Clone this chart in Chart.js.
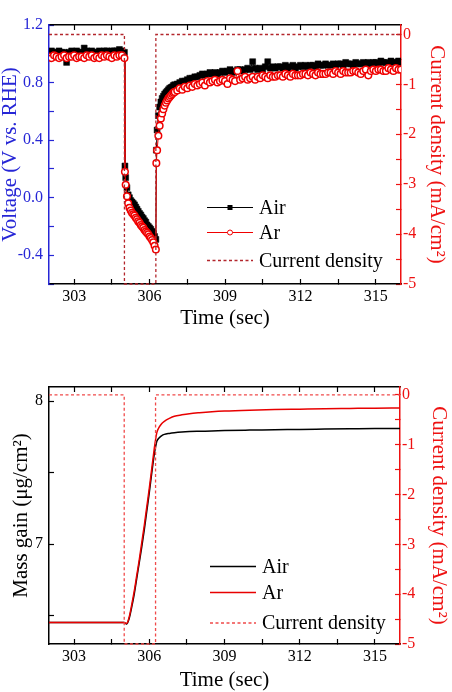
<!DOCTYPE html>
<html>
<head>
<meta charset="utf-8">
<script src="https://cdn.jsdelivr.net/npm/chart.js@4.4.1/dist/chart.umd.min.js"></script>
<style>
  body { margin: 0; background: #fff; }
  #wrap { position: relative; width: 452px; height: 692px; }
  canvas { position: absolute; left: 0; }
</style>
</head>
<body>
<div id="wrap">
  <canvas id="voltChart" width="452" height="340" style="top:0"></canvas>
  <canvas id="massChart" width="452" height="352" style="top:340px"></canvas>
</div>
<script>
/* ---------- data (top panel: voltage) ---------- */
let timeV = [
  302.0,302.1,302.2,302.3,302.4,302.5,302.6,302.7,302.8,302.9,
  303.0,303.1,303.2,303.3,303.4,303.5,303.6,303.7,303.8,303.9,
  304.0,304.1,304.2,304.3,304.4,304.5,304.6,304.7,304.8,304.9,
  305.0,
  305.02,305.05,305.1,305.15,305.2,305.25,305.3,305.35,305.4,305.45,
  305.5,305.55,305.6,305.65,305.7,305.75,305.8,305.85,305.9,305.95,
  306.0,306.05,306.1,306.15,306.2,306.25,
  306.27,306.3,306.35,306.4,306.45,306.5,306.55,306.6,306.65,306.7,
  306.75,306.8,306.85,306.9,306.95,307.0,
  307.1,307.2,307.3,307.4,307.5,307.6,307.7,307.8,307.9,
  308.0,308.1,308.2,308.3,308.4,308.5,308.6,308.7,308.8,308.9,
  309.0,309.1,309.2,309.3,309.4,309.5,309.6,309.7,309.8,309.9,
  310.0,310.1,310.2,310.3,310.4,310.5,310.6,310.7,310.8,310.9,
  311.0,311.1,311.2,311.3,311.4,311.5,311.6,311.7,311.8,311.9,
  312.0,312.1,312.2,312.3,312.4,312.5,312.6,312.7,312.8,312.9,
  313.0,313.1,313.2,313.3,313.4,313.5,313.6,313.7,313.8,313.9,
  314.0,314.1,314.2,314.3,314.4,314.5,314.6,314.7,314.8,314.9,
  315.0,315.1,315.2,315.3,315.4,315.5,315.6,315.7,315.8,315.9,
  316.0
]
let airVolt = [
  1.01,1.02,1.01,1.01,1.02,1.01,1.01,0.94,1.01,1.02,
  1.01,1.02,1.01,1.01,1.04,1.02,1.01,1.02,1.01,1.01,
  1.02,1.01,1.02,1.02,1.01,1.02,1.02,1.02,1.03,1.02,
  1.01,
  0.22,0.14,0.07,0.02,0.0,-0.02,-0.03,-0.04,-0.05,-0.065,
  -0.08,-0.095,-0.11,-0.12,-0.135,-0.145,-0.16,-0.17,-0.19,-0.2,
  -0.21,-0.22,-0.235,-0.25,-0.27,-0.29,
  0.33,0.47,0.57,0.63,0.665,0.69,0.705,0.72,0.73,0.74,
  0.75,0.76,0.765,0.77,0.78,0.785,
  0.79,0.8,0.81,0.81,0.82,0.83,0.83,0.84,0.84,
  0.85,0.86,0.85,0.86,0.87,0.86,0.87,0.86,0.87,0.88,
  0.87,0.88,0.89,0.87,0.88,0.89,0.89,0.88,0.89,0.90,
  0.89,0.945,0.90,0.89,0.90,0.89,0.91,0.945,0.90,0.91,
  0.90,0.91,0.91,0.90,0.92,0.90,0.91,0.92,0.90,0.91,
  0.92,0.91,0.92,0.91,0.92,0.92,0.91,0.93,0.92,0.92,
  0.93,0.92,0.92,0.93,0.92,0.93,0.93,0.92,0.94,0.93,
  0.93,0.92,0.94,0.93,0.93,0.94,0.93,0.94,0.93,0.94,
  0.94,0.93,0.95,0.94,0.94,0.93,0.95,0.94,0.94,0.95,
  0.94
]
let arVolt = [
  0.98,0.97,0.99,0.98,0.97,0.98,0.99,0.97,0.98,0.98,
  0.99,0.97,0.98,0.98,0.97,0.99,0.98,0.99,0.97,0.98,
  0.97,0.99,0.98,0.99,0.98,0.97,0.99,0.98,0.99,0.99,
  0.97,
  0.18,0.09,0.01,-0.04,-0.07,-0.09,-0.105,-0.115,-0.125,-0.14,
  -0.15,-0.165,-0.175,-0.19,-0.2,-0.21,-0.225,-0.235,-0.245,-0.255,
  -0.27,-0.28,-0.295,-0.31,-0.335,-0.36,
  0.24,0.33,0.43,0.5,0.55,0.585,0.615,0.64,0.66,0.675,
  0.69,0.7,0.71,0.72,0.73,0.735,
  0.745,0.76,0.75,0.77,0.76,0.78,0.77,0.79,0.78,
  0.79,0.80,0.78,0.81,0.80,0.81,0.82,0.80,0.81,0.82,
  0.81,0.79,0.83,0.82,0.81,0.88,0.82,0.83,0.84,0.82,
  0.83,0.84,0.82,0.84,0.83,0.85,0.84,0.83,0.85,0.84,
  0.84,0.85,0.85,0.84,0.86,0.85,0.84,0.86,0.85,0.85,
  0.85,0.86,0.86,0.85,0.87,0.86,0.85,0.87,0.86,0.86,
  0.86,0.87,0.87,0.86,0.88,0.87,0.86,0.88,0.87,0.87,
  0.87,0.88,0.88,0.87,0.86,0.88,0.89,0.85,0.88,0.89,
  0.88,0.89,0.89,0.88,0.88,0.90,0.89,0.88,0.90,0.89,
  0.89
]

/* ---------- data (bottom panel: mass gain) ---------- */
let timeM = [302,305.0,305.05,305.1,305.2,305.3,305.4,305.5,305.6,305.7,305.8,305.9,306.0,306.1,306.2,306.25,
  306.3,306.4,306.5,306.6,306.8,307.0,307.3,307.6,308.0,308.5,309,310,311,312,313,314,315,316]
let airMass = [6.45,6.45,6.445,6.44,6.48,6.56,6.65,6.76,6.87,6.98,7.1,7.23,7.36,7.5,7.63,7.68,
  7.72,7.745,7.76,7.768,7.775,7.78,7.785,7.788,7.79,7.792,7.795,7.798,7.8,7.803,7.805,7.807,7.809,7.81]
let arMass = [6.45,6.45,6.445,6.445,6.49,6.575,6.67,6.78,6.89,7.01,7.13,7.26,7.39,7.53,7.67,7.73,
  7.78,7.82,7.845,7.86,7.88,7.895,7.905,7.913,7.92,7.927,7.932,7.938,7.942,7.945,7.948,7.95,7.952,7.953]

/* ---------- current density step ---------- */
let curTime = [302,305,305,306.25,306.25,316]
let curVal = [0,0,-5,-5,0,0]

let FONT = '"Liberation Serif", "Times New Roman", serif'
let BLUE = '#2626d6'
let RED = '#ee1111'
Chart.defaults.font.family = FONT

function pts(xs, ys) {
  return xs.map((x, i) => ({ x: x, y: ys[i] }))
}

/* <><><> legend drawn inside the plot <><><> */
let insideLegend = {
  id: 'insideLegend',
  afterDraw(chart, args, opts) {
    let ctx = chart.ctx
    ctx.save()
    opts.items.forEach((it) => {
      let ds = chart.data.datasets[it.index]
      ctx.strokeStyle = ds.borderColor
      ctx.lineWidth = it.lw
      ctx.setLineDash(ds.borderDash || [])
      ctx.beginPath()
      ctx.moveTo(opts.x1, it.y)
      ctx.lineTo(opts.x2, it.y)
      ctx.stroke()
      ctx.setLineDash([])
      let mx = (opts.x1 + opts.x2) / 2
      if (it.marker == 'rect') {
        ctx.fillStyle = '#000'
        ctx.fillRect(mx - 2.5, it.y - 2.5, 5, 5)
      } else if (it.marker == 'circle') {
        ctx.beginPath()
        ctx.arc(mx, it.y, 2.5, 0, Math.PI * 2)
        ctx.fillStyle = '#fff'
        ctx.fill()
        ctx.lineWidth = 1
        ctx.strokeStyle = ds.borderColor
        ctx.stroke()
      }
      ctx.fillStyle = '#000'
      ctx.font = '20px ' + FONT
      ctx.textBaseline = 'middle'
      ctx.textAlign = 'left'
      ctx.fillText(ds.label, opts.tx, it.y + 1)
    })
    ctx.restore()
  }
}

function xAxis(pos, size, titlePad) {
  let ax = {
    type: 'linear', position: pos, min: 302, max: 316,
    ticks: {
      stepSize: 1.5, includeBounds: false, autoSkip: false, maxRotation: 0,
      display: pos == 'bottom', padding: 8, color: '#000', font: { size: 16 },
      callback: (v) => (v % 3 === 0 ? String(v) : '')
    },
    grid: { drawOnChartArea: false, tickLength: -5, tickColor: '#000', tickWidth: 1.2 },
    border: { color: '#000', width: 1.5 },
    afterFit: (s) => { s.height = size }
  }
  if (pos == 'bottom') {
    ax.title = { display: true, text: 'Time (sec)', color: '#000', font: { size: 21, lineHeight: 1 }, padding: { top: 0, bottom: titlePad } }
  }
  return ax
}

function yAxis(pos, min, max, step, color, width, title, titlePad, labelFn) {
  return {
    type: 'linear', position: pos, min: min, max: max,
    ticks: {
      stepSize: step, includeBounds: false, autoSkip: false,
      padding: pos == 'left' ? 11 : 7, color: color, font: { size: 16 },
      callback: labelFn
    },
    grid: { drawOnChartArea: false, tickLength: -5, tickColor: color, tickWidth: 1.2 },
    border: { color: color, width: 1.5 },
    title: { display: true, text: title, color: color, font: { size: 21, lineHeight: 1 }, padding: { top: titlePad, bottom: 0 } },
    afterFit: (s) => { s.width = width }
  }
}

let intLabel = (v) => (Number.isInteger(v) ? String(v) : '')

/* <><><> top panel <><><> */
new Chart(document.getElementById('voltChart'), {
  type: 'line',
  data: {
    datasets: [
      {
        label: 'Air', data: pts(timeV, airVolt), xAxisID: 'x', yAxisID: 'yL',
        borderColor: '#000', borderWidth: 1, pointStyle: 'rect', pointRadius: 4.2,
        pointBackgroundColor: '#000', pointBorderColor: '#000', pointBorderWidth: 0.5, order: 2
      },
      {
        label: 'Ar', data: pts(timeV, arVolt), xAxisID: 'x', yAxisID: 'yL',
        borderColor: '#f00000', borderWidth: 1, pointStyle: 'circle', pointRadius: 3.3,
        pointBackgroundColor: '#fff', pointBorderColor: '#f00000', pointBorderWidth: 1.5, order: 1
      },
      {
        label: 'Current density', data: pts(curTime, curVal), xAxisID: 'x', yAxisID: 'yR',
        borderColor: '#b3262c', borderWidth: 1.3, borderDash: [3, 2.5], pointRadius: 0,
        clip: false, order: 0
      }
    ]
  },
  options: {
    responsive: false, devicePixelRatio: 1, animation: false, events: [],
    layout: { padding: 0 },
    scales: {
      x: xAxis('bottom', 56, 11.5),
      xTop: xAxis('top', 25, 0),
      yL: yAxis('left', -0.6, 1.2, 0.2, BLUE, 49, 'Voltage (V vs. RHE)', 0,
        (v) => (Math.round(v * 10) % 4 === 0 ? v.toFixed(1) : '')),
      yR: yAxis('right', -5, 0.19, 0.5, RED, 51, 'Current density (mA/cm²)', 4.5, intLabel)
    },
    plugins: {
      legend: { display: false },
      tooltip: { enabled: false },
      insideLegend: {
        x1: 207, x2: 253, tx: 259,
        items: [
          { index: 0, y: 207.5, lw: 1, marker: 'rect' },
          { index: 1, y: 232.5, lw: 1, marker: 'circle' },
          { index: 2, y: 260.5, lw: 1.3 }
        ]
      }
    }
  },
  plugins: [insideLegend]
})

/* <><><> bottom panel <><><> */
new Chart(document.getElementById('massChart'), {
  type: 'line',
  data: {
    datasets: [
      {
        label: 'Air', data: pts(timeM, airMass), xAxisID: 'x', yAxisID: 'yL',
        borderColor: '#000', borderWidth: 1.5, pointRadius: 0, cubicInterpolationMode: 'monotone', order: 2
      },
      {
        label: 'Ar', data: pts(timeM, arMass), xAxisID: 'x', yAxisID: 'yL',
        borderColor: '#e80000', borderWidth: 1.5, pointRadius: 0, cubicInterpolationMode: 'monotone', order: 1
      },
      {
        label: 'Current density', data: pts(curTime, curVal), xAxisID: 'x', yAxisID: 'yR',
        borderColor: '#f04a4a', borderWidth: 1.3, borderDash: [3, 2.5], pointRadius: 0,
        clip: false, order: 0
      }
    ]
  },
  options: {
    responsive: false, devicePixelRatio: 1, animation: false, events: [],
    layout: { padding: 0 },
    scales: {
      x: xAxis('bottom', 48, 1.5),
      xTop: xAxis('top', 47, 0),
      yL: yAxis('left', 6.3, 8.1, 0.5, '#000', 49, 'Mass gain (μg/cm²)', 11, intLabel),
      yR: yAxis('right', -5, 0.16, 0.5, RED, 52, 'Current density (mA/cm²)', 2.5, intLabel)
    },
    plugins: {
      legend: { display: false },
      tooltip: { enabled: false },
      insideLegend: {
        x1: 210, x2: 256, tx: 262,
        items: [
          { index: 0, y: 226.5, lw: 1.5 },
          { index: 1, y: 252.5, lw: 1.5 },
          { index: 2, y: 283, lw: 1.3 }
        ]
      }
    }
  },
  plugins: [insideLegend]
})
</script>
</body>
</html>
